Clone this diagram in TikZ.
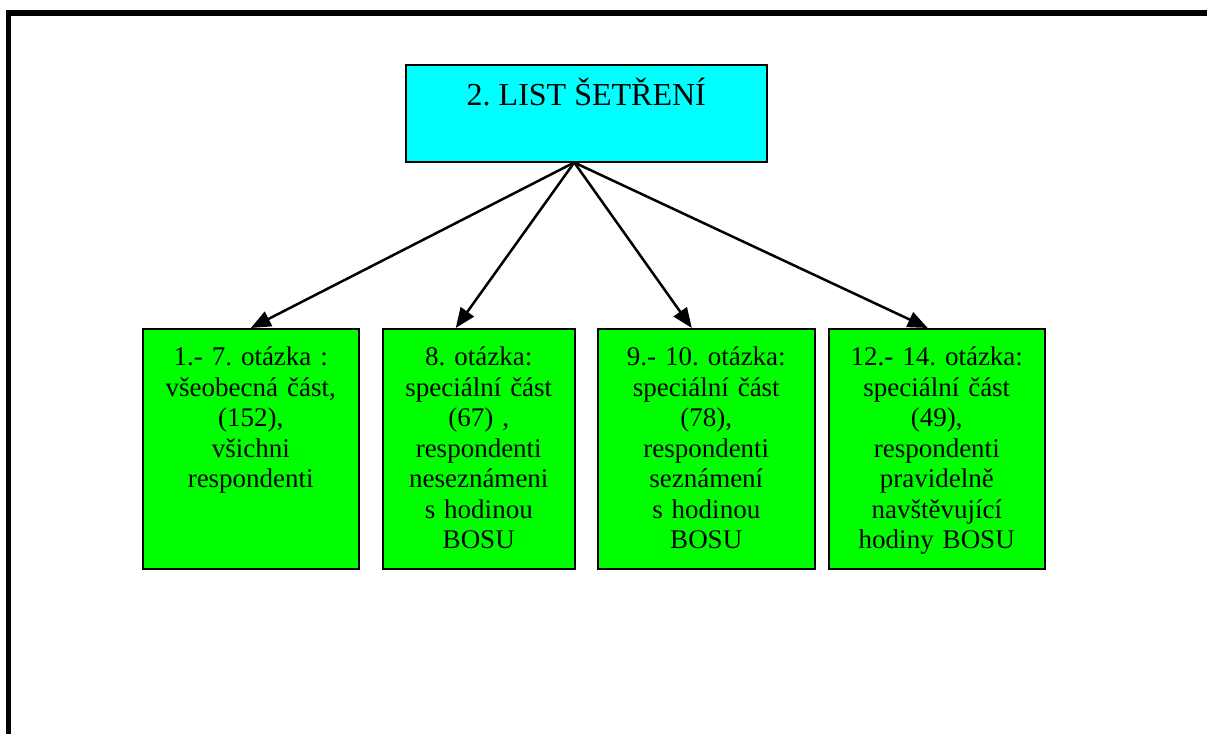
\documentclass[tikz,border=0pt]{standalone}
\usepackage{fontspec}
\setmainfont{Liberation Serif}
\usetikzlibrary{arrows.meta}

\definecolor{listcyan}{HTML}{00FFFF}
\definecolor{otazkagreen}{HTML}{00FF00}

\tikzset{
  list/.style={draw, fill=listcyan, line width=1.5pt, inner sep=0pt, anchor=north west,
    minimum width=361pt, text height=41pt, text depth=56pt, font=\fontsize{32}{36}\selectfont},
  otazka/.style={draw, fill=otazkagreen, line width=1.5pt, inner sep=0pt, anchor=north west,
    align=center, text height=37pt, text depth=203pt, font=\fontsize{27}{30.5}\selectfont},
  sipka/.style={line width=2.5pt, -{Triangle[length=20pt,width=16pt]}}
}

\begin{document}
\frenchspacing
\begin{tikzpicture}[x=1pt, y=-1pt]
\useasboundingbox (0,0) rectangle (1207,734);
% frame
\draw[line width=5.5pt] (8.5,734) -- (8.5,13) -- (1207,13);

\node[list] (list) at (405,64) {2. LIST ŠETŘENÍ};
\coordinate (root) at ([xshift=-12pt]list.south);

\node[otazka, text width=216pt] (Q1) at (142,328) {1.- 7. otázka :\\všeobecná část,\\(152),\\všichni\\respondenti};
\node[otazka, text width=192pt] (Q2) at (382,328) {8. otázka:\\speciální část\\(67) ,\\respondenti\\neseznámeni\\s hodinou\\BOSU};
\node[otazka, text width=217pt] (Q3) at (597,328) {9.- 10. otázka:\\speciální část\\(78),\\respondenti\\seznámení\\s hodinou\\BOSU};
\node[otazka, text width=216pt] (Q4) at (828,328) {12.- 14. otázka:\\speciální část\\(49),\\respondenti\\pravidelně\\navštěvující\\hodiny BOSU};

\draw[sipka] (root) -- (Q1.north);
\draw[sipka] (root) -- ([xshift=-23pt]Q2.north);
\draw[sipka] (root) -- ([xshift=-14.5pt]Q3.north);
\draw[sipka] (root) -- ([xshift=-9pt]Q4.north);
\end{tikzpicture}
\end{document}
